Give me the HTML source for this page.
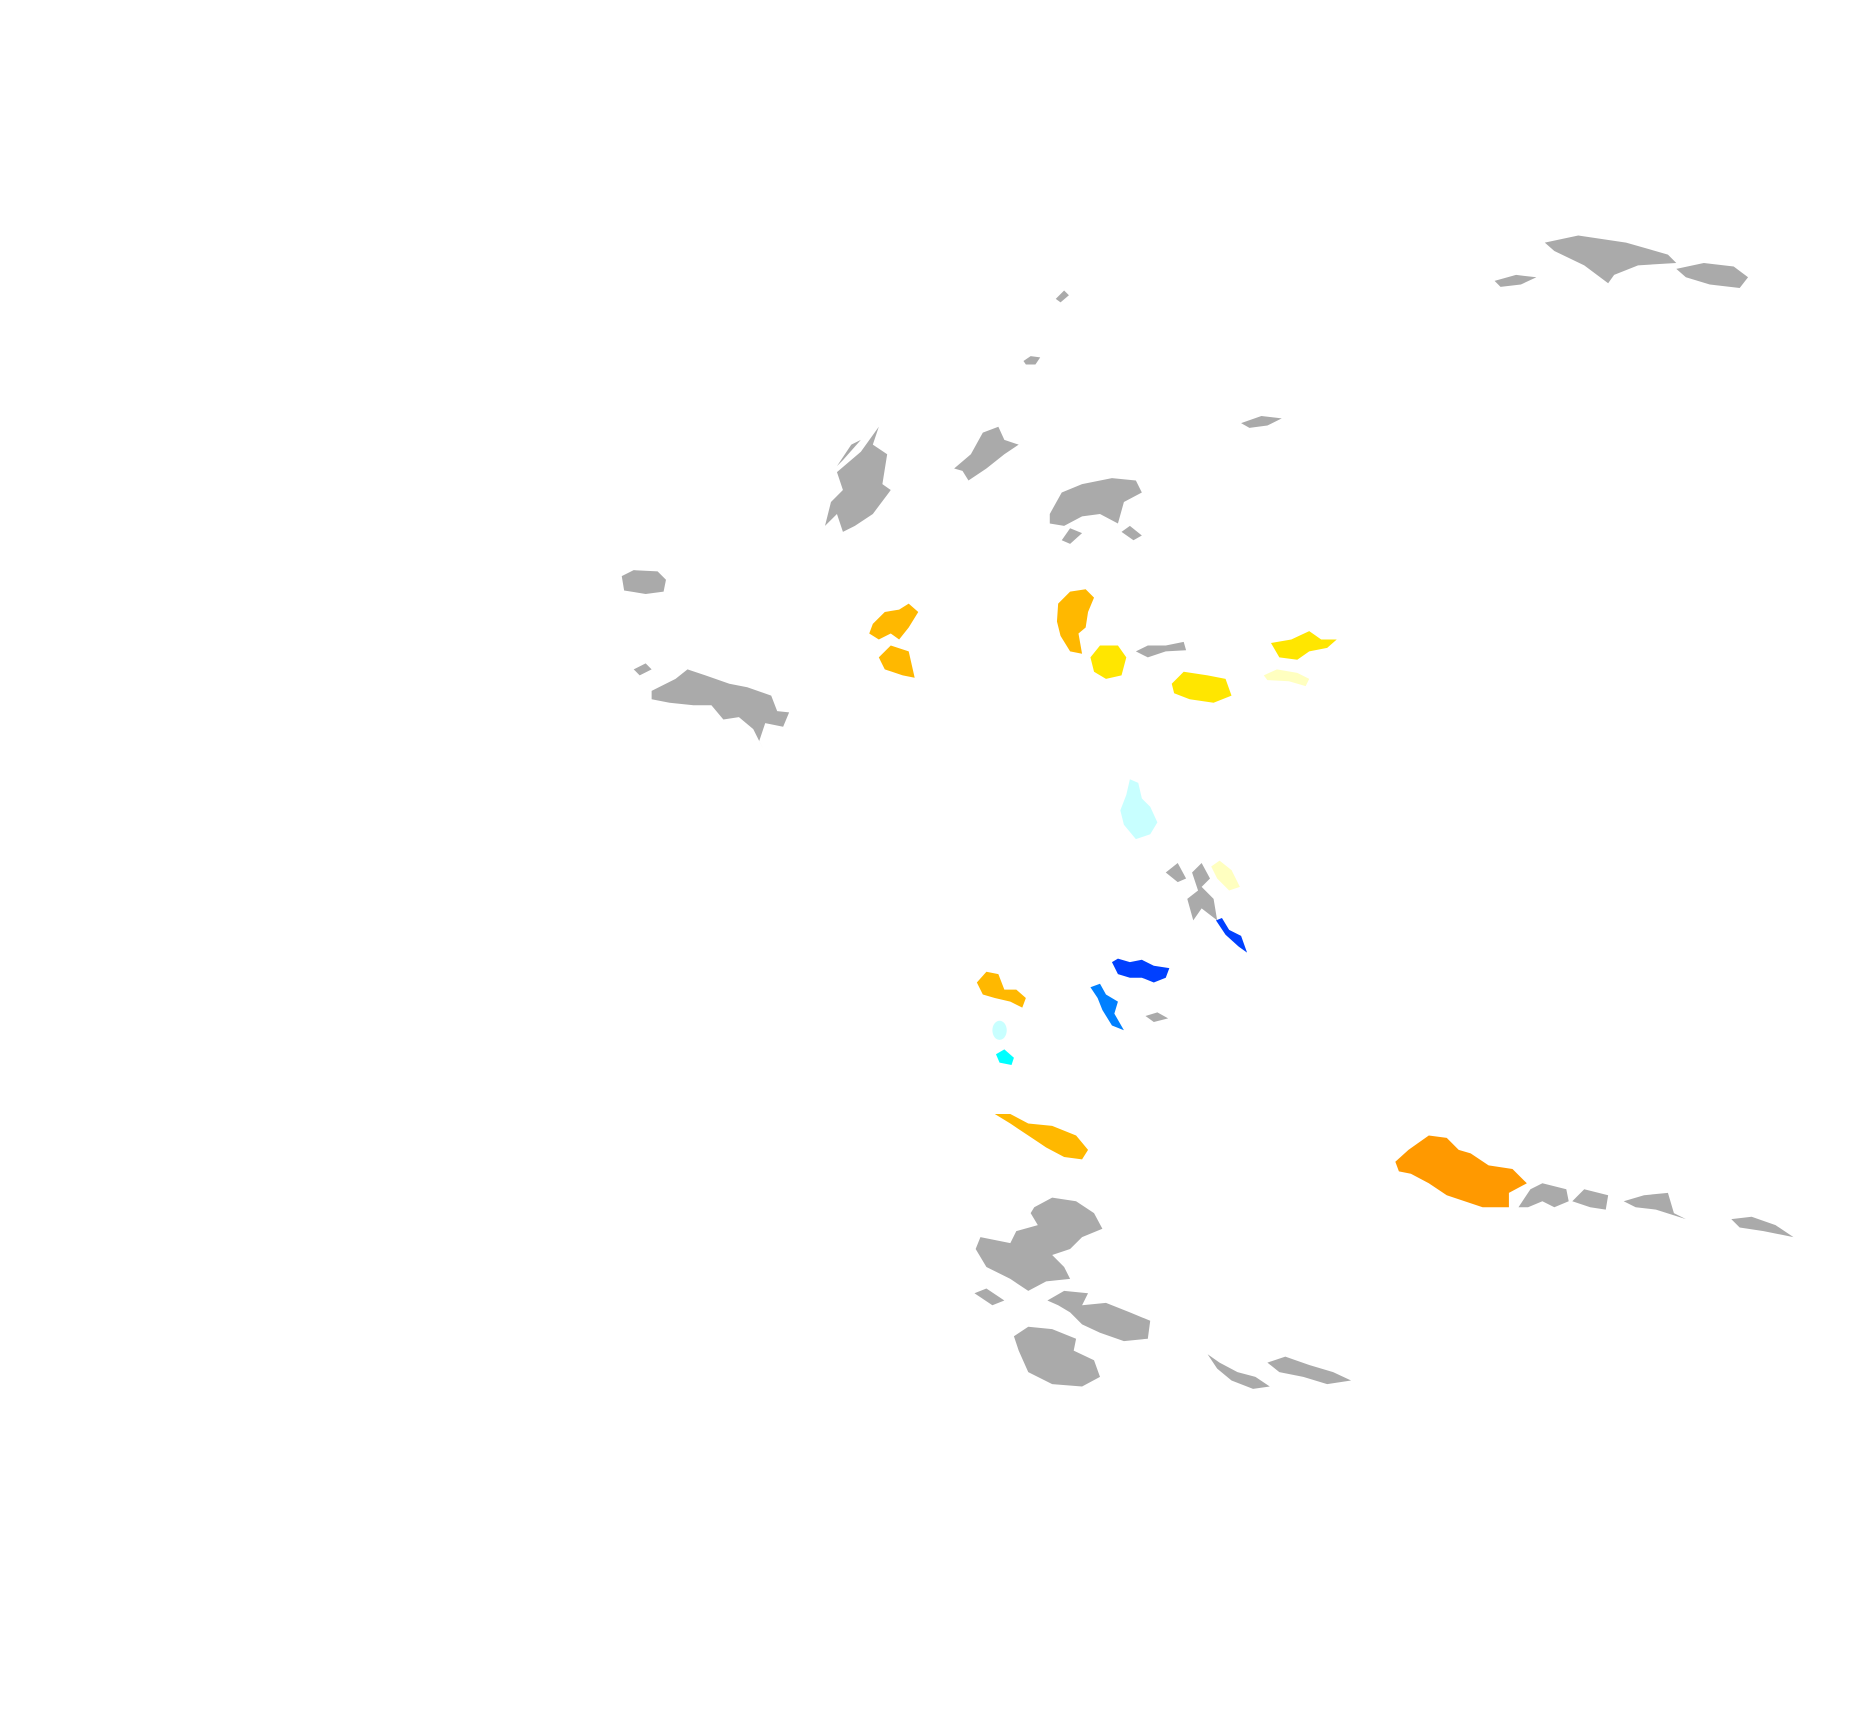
<!DOCTYPE html>
<html><head><meta charset="utf-8"><style>
html,body{margin:0;padding:0;background:#fff;}
svg{display:block;}
</style></head><body>
<svg width="1870" height="1714" viewBox="0 0 1564 1434" preserveAspectRatio="none" xmlns="http://www.w3.org/2000/svg">
<g fill="#aaaaaa">
<polygon points="1292,203 1320,197 1360,203 1395,213 1402,220 1370,222 1350,230 1345,237 1325,222 1300,210"/>
<polygon points="1402,225 1425,220 1450,223 1462,232 1455,241 1430,238 1410,232"/>
<polygon points="1250,235 1268,230 1285,232 1272,238 1255,240"/>
<polygon points="883,250 890,243 894,247 887,253"/>
<polygon points="856,302 862,298 870,299 866,305 858,305"/>
<polygon points="1038,354 1055,348 1072,350 1060,356 1045,358"/>
<polygon points="700,395 720,378 735,357 730,372 742,380 738,405 745,410 730,430 715,440 705,445 700,430 690,440 695,420 705,410"/>
<polygon points="700,390 712,372 720,368 705,385"/>
<polygon points="798,392 812,380 822,362 835,357 840,368 852,372 840,380 825,392 810,402 805,394"/>
<polygon points="878,430 888,412 905,405 930,400 950,402 955,412 940,420 935,438 920,430 905,432 890,440 878,438"/>
<polygon points="888,452 895,442 905,446 895,455"/>
<polygon points="938,445 945,440 955,448 948,452"/>
<polygon points="520,482 530,477 550,478 557,485 555,495 540,497 522,494"/>
<polygon points="530,560 540,555 545,560 535,565"/>
<polygon points="545,578 565,568 575,560 590,565 610,572 625,575 645,582 650,595 660,596 655,608 640,605 635,620 640,630 630,610 618,600 605,602 595,590 580,590 560,588 545,585"/>
<polygon points="950,545 960,540 975,540 990,537 992,544 975,545 960,550"/>
<polygon points="975,730 985,722 992,735 985,738"/>
<polygon points="997,730 1005,722 1012,735 1005,742 1015,752 1018,770 1005,760 998,770 993,752 1002,745"/>
<polygon points="958,850 968,847 977,852 965,855"/>
<polygon points="1270,1010 1280,995 1290,990 1310,995 1312,1005 1300,1010 1290,1005 1278,1010"/>
<polygon points="1315,1005 1325,995 1345,1000 1343,1012 1330,1010"/>
<polygon points="1358,1005 1375,1000 1395,998 1400,1015 1410,1020 1385,1012 1368,1010"/>
<polygon points="1448,1020 1465,1018 1485,1025 1500,1035 1475,1030 1455,1027"/>
<polygon points="865,1010 880,1002 900,1005 915,1015 922,1028 905,1035 895,1045 880,1050 890,1060 895,1070 875,1072 860,1080 845,1070 825,1060 816,1045 820,1035 845,1040 850,1030 868,1025 862,1015"/>
<polygon points="815,1082 825,1078 840,1088 830,1092"/>
<polygon points="876,1088 890,1080 910,1082 905,1092 925,1090 945,1098 962,1105 960,1120 940,1122 920,1115 905,1108 895,1098 885,1092"/>
<polygon points="848,1118 860,1110 880,1112 900,1120 898,1130 915,1138 920,1152 905,1160 880,1158 860,1148 852,1130"/>
<polygon points="1010,1133 1020,1140 1035,1148 1050,1152 1062,1160 1048,1162 1030,1155 1018,1145"/>
<polygon points="1060,1140 1075,1135 1095,1142 1115,1148 1130,1155 1110,1158 1090,1152 1070,1148"/>
</g>
<g fill="#ffb800">
<polygon points="730,522 740,512 752,510 760,505 768,512 760,525 752,535 745,530 735,535 727,530"/>
<polygon points="735,550 745,540 760,545 765,567 755,565 740,560"/>
<polygon points="885,505 895,495 908,493 915,500 910,512 908,525 902,530 905,547 895,545 887,532 884,520"/>
<polygon points="817,822 825,813 835,815 840,828 850,828 858,835 855,843 845,838 832,835 822,832"/>
<polygon points="832,932 845,932 860,940 880,942 900,950 910,962 905,970 890,968 875,960 860,950 845,940"/>
</g>
<g fill="#ffe600">
<polygon points="912,550 920,540 935,540 942,550 938,565 925,568 915,562"/>
<polygon points="980,572 990,562 1010,565 1025,568 1030,582 1015,588 995,585 982,580"/>
<polygon points="1063,538 1080,535 1095,528 1105,535 1118,535 1110,542 1095,545 1085,552 1070,550"/>
</g>
<g fill="#ffffc0">
<polygon points="1057,565 1068,560 1085,563 1095,568 1092,574 1078,570 1060,569"/>
<polygon points="1013,725 1020,720 1030,728 1037,742 1028,745 1018,735"/>
</g>
<g fill="#c8ffff">
<polygon points="942,665 945,652 952,655 955,668 962,675 968,688 962,698 950,702 940,690 937,678"/>
<ellipse cx="836" cy="862" rx="6" ry="8"/>
</g>
<polygon fill="#00ffff" points="833,882 840,878 848,885 846,891 836,889"/>
<g fill="#0040ff">
<polygon points="1017,770 1022,768 1028,778 1038,783 1043,797 1036,792 1025,782"/>
<polygon points="930,805 935,802 945,805 955,803 965,808 978,810 975,818 965,822 955,818 945,818 935,815"/>
</g>
<polygon fill="#0080ff" points="912,826 920,823 925,832 935,838 932,848 940,862 930,858 922,845 918,835"/>
<polygon fill="#ff9900" points="1167,972 1178,962 1195,950 1210,952 1220,962 1230,965 1245,975 1265,978 1277,990 1262,998 1262,1010 1240,1010 1225,1005 1210,1000 1195,990 1180,982 1170,980"/>
</svg>
</body></html>
